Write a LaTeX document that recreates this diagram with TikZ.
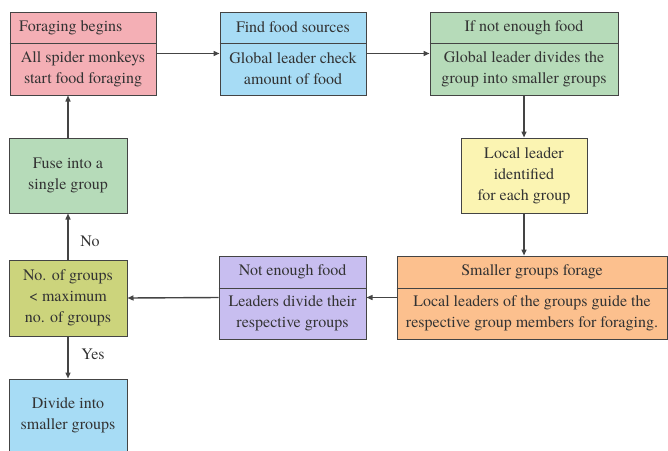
\documentclass[tikz,border=0pt]{standalone}
\usepackage{fontspec}
\setmainfont{TeX Gyre Termes}
\usetikzlibrary{arrows.meta}
\definecolor{cpink}{HTML}{F4AFB5}
\definecolor{cblue}{HTML}{A7DCF5}
\definecolor{cgreen}{HTML}{B6DBB9}
\definecolor{cyellow}{HTML}{FBF4B2}
\definecolor{corange}{HTML}{FCC08E}
\definecolor{cpurple}{HTML}{C8BEF0}
\definecolor{colive}{HTML}{CCD47C}
\definecolor{cline}{HTML}{444444}
\definecolor{ctext}{HTML}{333333}
\begin{document}
\begin{tikzpicture}[x=1pt,y=-1pt,
  box/.style={draw=cline, line width=1pt, inner sep=0pt, rectangle},
  txt/.style={text=ctext, align=center, font=\fontsize{16}{21}\selectfont, inner sep=0pt},
  divider/.style={draw=cline, line width=1pt},
  arr/.style={draw=cline, line width=1.4pt, -{Triangle[length=6pt,width=5pt]}},
  lbl/.style={text=ctext, font=\fontsize{16}{21}\selectfont, inner sep=0pt}]
\useasboundingbox (0,0) rectangle (668,450);
% Box 1
\node[box, fill=cpink, minimum width=146pt, minimum height=83pt] (b1) at (83,53.5) {};
\draw[divider] (b1.west |- 0,43) -- (b1.east |- 0,43);
\node[txt, anchor=west] (b1h) at (19,27.5) {Foraging begins};
\node[txt] (b1b) at (83,69) {All spider monkeys\\start food foraging};
% Box 2
\node[box, fill=cblue, minimum width=146pt, minimum height=83pt] (b2) at (293,53.5) {};
\draw[divider] (b2.west |- 0,43) -- (b2.east |- 0,43);
\node[txt] (b2h) at (293,27.5) {Find food sources};
\node[txt] (b2b) at (293,69) {Global leader check\\amount of food};
% Box 3
\node[box, fill=cgreen, minimum width=188pt, minimum height=83pt] (b3) at (524,53.5) {};
\draw[divider] (b3.west |- 0,43) -- (b3.east |- 0,43);
\node[txt] (b3h) at (524,27.5) {If not enough food};
\node[txt] (b3b) at (524,69) {Global leader divides the\\group into smaller groups};
% Local leader
\node[box, fill=cyellow, minimum width=126pt, minimum height=75pt] (loc) at (524,175.5) {};
\node[txt] (loct) at (524,175.5) {Local leader\\identified\\for each group};
% Orange
\node[box, fill=corange, minimum width=270pt, minimum height=83pt] (org) at (532,297.5) {};
\draw[divider] (org.west |- 0,288) -- (org.east |- 0,288);
\node[txt] (orgh) at (532,272) {Smaller groups forage};
\node[txt] (orgb) at (532,313.5) {Local leaders of the groups guide the\\respective group members for foraging.};
% Purple
\node[box, fill=cpurple, minimum width=147pt, minimum height=83pt] (pur) at (292.5,297.5) {};
\draw[divider] (pur.west |- 0,288) -- (pur.east |- 0,288);
\node[txt] (purh) at (292.5,272) {Not enough food};
\node[txt] (purb) at (292.5,313.5) {Leaders divide their\\respective groups};
% Decision
\node[box, fill=colive, minimum width=118pt, minimum height=76pt] (dec) at (68,298) {};
\node[txt] (dect) at (68,297.5) {No. of groups\\< maximum\\no. of groups};
% Fuse
\node[box, fill=cgreen, minimum width=118pt, minimum height=75pt] (fuse) at (68,175.5) {};
\node[txt] (fuset) at (68,175.5) {Fuse into a\\single group};
% Divide
\node[box, fill=cblue, minimum width=118pt, minimum height=74pt] (div) at (68,416) {};
\node[txt] (divt) at (68,415) {Divide into\\smaller groups};
% Arrows
\draw[arr] (b1.east) -- (b2.west);
\draw[arr] (b2.east) -- (b3.west);
\draw[arr] (b3.south) -- (loc.north);
\draw[arr] (loc.south) -- (loc.south |- org.north);
\draw[arr] (org.west) -- (pur.east);
\draw[arr] (pur.west) -- (dec.east);
\draw[arr] (dec.south) -- (div.north);
\draw[arr] (dec.north) -- (fuse.south);
\draw[arr] (fuse.north) -- (fuse.north |- b1.south);
\node[lbl] (yes) at (93,354) {Yes};
\node[lbl] (no) at (90,241) {No};
\end{tikzpicture}
\end{document}
